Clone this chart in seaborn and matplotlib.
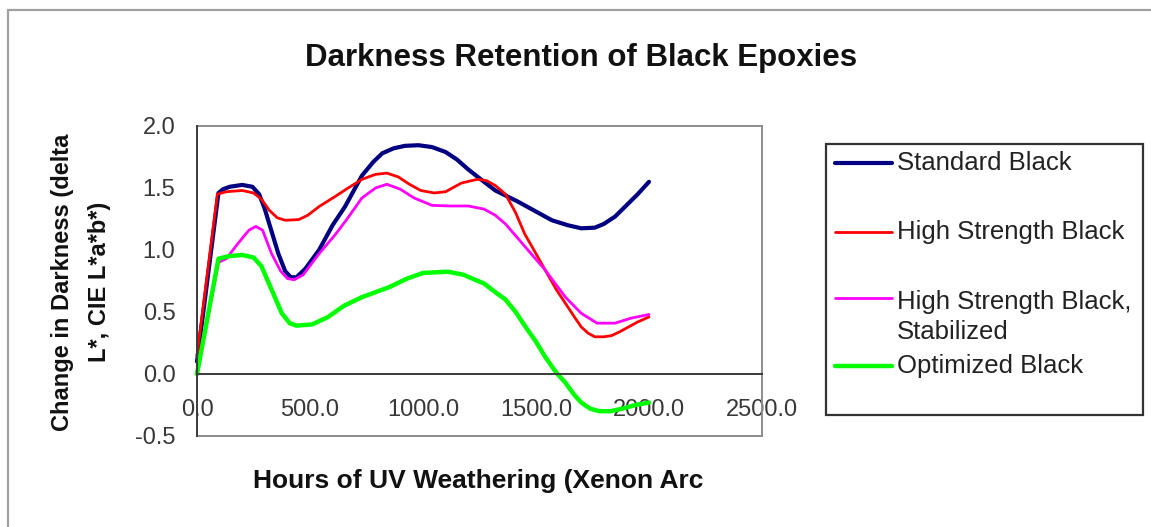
import matplotlib
matplotlib.use("Agg")
import matplotlib.pyplot as plt
import pandas as pd
import seaborn as sns
from matplotlib.patches import Rectangle
from matplotlib.lines import Line2D

# Change in darkness (delta L*, CIE L*a*b*) versus hours of xenon-arc exposure
std_hours = [0, 95, 115, 145, 200, 245, 275, 300, 330, 360, 390, 415, 440, 480, 540, 600,
             655, 730, 780, 820, 870, 920, 980, 1040, 1100, 1150, 1200, 1270, 1320,
             1420, 1500, 1570, 1640, 1700, 1760, 1800, 1850, 1900, 1950, 2000]
std_delta = [0.10, 1.46, 1.49, 1.51, 1.525, 1.51, 1.45, 1.33, 1.15, 0.97, 0.83, 0.78, 0.78,
             0.85, 1.00, 1.20, 1.35, 1.60, 1.71, 1.78, 1.82, 1.84, 1.845, 1.83, 1.79, 1.73,
             1.65, 1.55, 1.48, 1.39, 1.31, 1.24, 1.20, 1.175, 1.18, 1.21, 1.27, 1.36, 1.45,
             1.55]

hs_hours = [0, 90, 130, 200, 250, 285, 320, 355, 390, 450, 490, 540, 610, 660, 730, 790,
            840, 890, 940, 990, 1050, 1100, 1170, 1240, 1280, 1320, 1365, 1410, 1450, 1500,
            1540, 1590, 1630, 1670, 1700, 1730, 1760, 1800, 1835, 1870, 1910, 1950, 2000]
hs_delta = [0.15, 1.45, 1.47, 1.48, 1.46, 1.41, 1.32, 1.26, 1.24, 1.245, 1.28, 1.35, 1.43,
            1.49, 1.57, 1.61, 1.62, 1.59, 1.53, 1.48, 1.46, 1.47, 1.54, 1.57, 1.56, 1.52,
            1.45, 1.30, 1.13, 0.97, 0.84, 0.68, 0.57, 0.46, 0.38, 0.33, 0.30, 0.30, 0.31,
            0.34, 0.38, 0.42, 0.46]

stab_hours = [0, 95, 130, 180, 230, 260, 290, 330, 370, 400, 430, 470, 540, 610, 660, 730,
              790, 840, 900, 960, 1040, 1120, 1200, 1270, 1320, 1365, 1450, 1540, 1630, 1700,
              1770, 1850, 1920, 2000]
stab_delta = [0.0, 0.90, 0.93, 1.05, 1.16, 1.19, 1.16, 0.97, 0.83, 0.77, 0.76, 0.80, 0.97,
              1.12, 1.24, 1.42, 1.50, 1.53, 1.49, 1.42, 1.36, 1.355, 1.355, 1.33, 1.28, 1.21,
              1.03, 0.84, 0.62, 0.49, 0.41, 0.41, 0.45, 0.48]

opt_hours = [0, 95, 140, 200, 250, 285, 330, 375, 410, 440, 510, 580, 650, 730, 850, 930,
             1000, 1110, 1180, 1230, 1270, 1320, 1365, 1410, 1450, 1500, 1540, 1590, 1630,
             1670, 1700, 1740, 1780, 1830, 1880, 1940, 2000]
opt_delta = [0.0, 0.93, 0.95, 0.96, 0.94, 0.87, 0.68, 0.49, 0.41, 0.39, 0.40, 0.46, 0.55,
             0.62, 0.70, 0.77, 0.815, 0.825, 0.80, 0.76, 0.73, 0.66, 0.60, 0.50, 0.39, 0.26,
             0.14, 0.01, -0.07, -0.17, -0.23, -0.28, -0.30, -0.30, -0.28, -0.25, -0.23]

series_names = ["Standard Black", "High Strength Black",
                "High Strength Black,\nStabilized", "Optimized Black"]
series_hours = [std_hours, hs_hours, stab_hours, opt_hours]
series_delta = [std_delta, hs_delta, stab_delta, opt_delta]

x_ticks = [0, 500, 1000, 1500, 2000, 2500]
y_ticks = [-0.5, 0.0, 0.5, 1.0, 1.5, 2.0]

line_colors = ["#000080", "#FF0000", "#FF00FF", "#00FF00"]
line_widths = [3.0, 2.0, 2.0, 3.2]

sns.set_style("white")
plt.rcParams["font.family"] = ["Liberation Sans", "DejaVu Sans"]

W, H = 1151, 527
fig = plt.figure(figsize=(W / 100, H / 100), dpi=100)

def fx(px):
    return px / W

def fy(py):
    return 1 - py / H

# outer chart frame (runs off the right and bottom edges)
fig.add_artist(Rectangle((fx(8), -0.2), 1.2, fy(10) + 0.2, transform=fig.transFigure,
                         fill=False, edgecolor="#a0a0a0", linewidth=1.6))

ax = fig.add_axes([fx(197), fy(436), fx(762) - fx(197), fy(126) - fy(436)])

frames = [pd.DataFrame({"hours": h, "delta": d, "series": n})
          for n, h, d in zip(series_names, series_hours, series_delta)]
df = pd.concat(frames, ignore_index=True)

for name, color, lw in zip(series_names, line_colors, line_widths):
    sns.lineplot(data=df[df["series"] == name], x="hours", y="delta", color=color,
                 linewidth=lw, estimator=None, sort=False, ax=ax, legend=False,
                 solid_joinstyle="round", solid_capstyle="round", clip_on=False)

ax.set_xlim(0, 2500)
ax.set_ylim(-0.5, 2.0)
ax.set_xticks(x_ticks)
ax.set_yticks(y_ticks)
ax.set_xticklabels([f"{v:.1f}" for v in x_ticks])
ax.set_yticklabels([f"{v:.1f}" for v in y_ticks])
ax.set_xlabel("")
ax.set_ylabel("")

axis_dark = "#3a3a3a"
border_gray = "#8c8c8c"
ax.spines["bottom"].set_position(("data", 0))
ax.spines["bottom"].set_color(axis_dark)
ax.spines["bottom"].set_linewidth(1.4)
ax.spines["left"].set_color(axis_dark)
ax.spines["left"].set_linewidth(1.4)
ax.spines["left"].set_zorder(5)
for side in ("top", "right"):
    ax.spines[side].set_color(border_gray)
    ax.spines[side].set_linewidth(1.4)
ax.plot([0, 1], [0, 0], transform=ax.transAxes, color=border_gray, lw=1.4,
        clip_on=False, zorder=1)

ax.tick_params(axis="y", direction="out", length=6.5, width=1.4, color=axis_dark,
               labelsize=17, labelcolor="#383838", pad=9)
ax.tick_params(axis="x", direction="inout", length=10, width=1.4, color=axis_dark,
               labelsize=17, labelcolor="#383838", pad=13)

fig.text(fx(581), fy(58), "Darkness Retention of Black Epoxies", ha="center",
         va="center", fontsize=22.5, fontweight="bold", color="#111111")
fig.text(fx(478), fy(481), "Hours of UV Weathering (Xenon Arc", ha="center",
         va="center", fontsize=19, fontweight="bold", color="#111111")
fig.text(fx(81), fy(282), "Change in Darkness (delta\nL*, CIE L*a*b*)", ha="center",
         va="center", rotation=90, multialignment="center", linespacing=1.75,
         fontsize=17, fontweight="bold", color="#111111")

# legend box
fig.add_artist(Rectangle((fx(826), fy(415)), fx(1143) - fx(826), fy(144) - fy(415),
                         transform=fig.transFigure, facecolor="white",
                         edgecolor="#333333", linewidth=1.6))
entry_y = [163, 232, 298, 366]
for name, color, lw, py in zip(series_names, line_colors, line_widths, entry_y):
    fig.add_artist(Line2D([fx(835), fx(892)], [fy(py), fy(py)], transform=fig.transFigure,
                          color=color, linewidth=lw, solid_capstyle="round"))
    if "\n" in name:
        fig.text(fx(897), fy(py - 8), name, ha="left", va="top", fontsize=18.5,
                 color="#222222", linespacing=1.3)
    else:
        fig.text(fx(897), fy(py), name, ha="left", va="center", fontsize=18.5,
                 color="#222222")

fig.savefig("out.png", dpi=100)
